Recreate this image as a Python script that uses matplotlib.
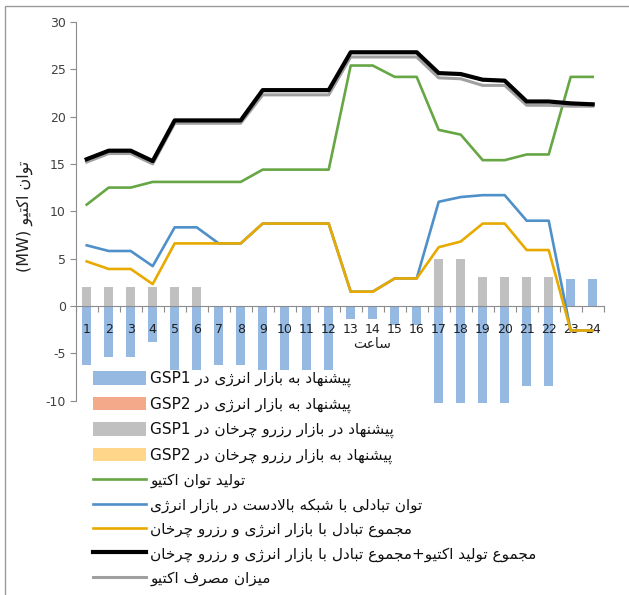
import matplotlib
matplotlib.use("Agg")
import matplotlib.pyplot as plt
import matplotlib.patches as mpatches
import numpy as np

plt.rcParams['font.family'] = ['DejaVu Sans']

# ---------------- data ----------------
hours = list(range(1, 25))
hour_labels = [str(h) for h in hours]

bid_energy_gsp1 = [-6.2, -5.4, -5.4, -3.8, -8.2, -8.2, -6.2, -6.2, -8.5, -8.5, -8.5, -8.5,
                   -1.4, -1.4, -2.0, -2.0, -10.3, -10.3, -10.3, -10.3, -8.5, -8.5, 2.8, 2.8]
bid_energy_gsp2 = [0.0] * 24
bid_reserve_gsp1 = [2.0, 2.0, 2.0, 2.0, 2.0, 2.0, 0, 0, 0, 0, 0, 0,
                    0, 0, 0, 0, 5.0, 5.0, 3.1, 3.1, 3.1, 3.1, 0, 0]
bid_reserve_gsp2 = [0.0] * 24

active_gen = [10.7, 12.5, 12.5, 13.1, 13.1, 13.1, 13.1, 13.1, 14.4, 14.4, 14.4, 14.4,
              25.4, 25.4, 24.2, 24.2, 18.6, 18.1, 15.4, 15.4, 16.0, 16.0, 24.2, 24.2]
exchange_energy = [6.4, 5.8, 5.8, 4.2, 8.3, 8.3, 6.6, 6.6, 8.7, 8.7, 8.7, 8.7,
                   1.5, 1.5, 2.9, 2.9, 11.0, 11.5, 11.7, 11.7, 9.0, 9.0, -2.6, -2.6]
exchange_total = [4.7, 3.9, 3.9, 2.3, 6.6, 6.6, 6.6, 6.6, 8.7, 8.7, 8.7, 8.7,
                  1.5, 1.5, 2.9, 2.9, 6.2, 6.8, 8.7, 8.7, 5.9, 5.9, -2.6, -2.6]
gen_plus_exchange = [15.5, 16.4, 16.4, 15.3, 19.6, 19.6, 19.6, 19.6, 22.8, 22.8, 22.8, 22.8,
                     26.8, 26.8, 26.8, 26.8, 24.6, 24.5, 23.9, 23.8, 21.6, 21.6, 21.4, 21.3]
active_load = [15.2, 16.1, 16.1, 15.0, 19.3, 19.3, 19.3, 19.3, 22.3, 22.3, 22.3, 22.3,
               26.3, 26.3, 26.3, 26.3, 24.1, 24.0, 23.3, 23.3, 21.2, 21.2, 21.1, 21.1]

y_ticks = [-10, -5, 0, 5, 10, 15, 20, 25, 30]

# ---------------- minimal Persian shaping ----------------
FORMS = {
    'ا': ('\uFE8D', '\uFE8E', None, None),
    'ب': ('\uFE8F', '\uFE90', '\uFE91', '\uFE92'),
    'پ': ('\uFB56', '\uFB57', '\uFB58', '\uFB59'),
    'ت': ('\uFE95', '\uFE96', '\uFE97', '\uFE98'),
    'ج': ('\uFE9D', '\uFE9E', '\uFE9F', '\uFEA0'),
    'چ': ('\uFB7A', '\uFB7B', '\uFB7C', '\uFB7D'),
    'خ': ('\uFEA5', '\uFEA6', '\uFEA7', '\uFEA8'),
    'د': ('\uFEA9', '\uFEAA', None, None),
    'ر': ('\uFEAD', '\uFEAE', None, None),
    'ز': ('\uFEAF', '\uFEB0', None, None),
    'ژ': ('\uFB8A', '\uFB8B', None, None),
    'س': ('\uFEB1', '\uFEB2', '\uFEB3', '\uFEB4'),
    'ش': ('\uFEB5', '\uFEB6', '\uFEB7', '\uFEB8'),
    'ص': ('\uFEB9', '\uFEBA', '\uFEBB', '\uFEBC'),
    'ع': ('\uFEC9', '\uFECA', '\uFECB', '\uFECC'),
    'ف': ('\uFED1', '\uFED2', '\uFED3', '\uFED4'),
    'ک': ('\uFB8E', '\uFB8F', '\uFB90', '\uFB91'),
    'ل': ('\uFEDD', '\uFEDE', '\uFEDF', '\uFEE0'),
    'م': ('\uFEE1', '\uFEE2', '\uFEE3', '\uFEE4'),
    'ن': ('\uFEE5', '\uFEE6', '\uFEE7', '\uFEE8'),
    'ه': ('\uFEE9', '\uFEEA', '\uFEEB', '\uFEEC'),
    'و': ('\uFEED', '\uFEEE', None, None),
    'ی': ('\uFBFC', '\uFBFD', '\uFBFE', '\uFBFF'),
}


def fa(text):
    chars = list(text)
    out = []
    i = 0

    def joins_next(c):
        return c in FORMS and FORMS[c][2] is not None

    while i < len(chars):
        c = chars[i]
        if c not in FORMS:
            out.append(c)
            i += 1
            continue
        prev = chars[i - 1] if i > 0 else None
        cp = prev is not None and joins_next(prev)
        if c == 'ل' and i + 1 < len(chars) and chars[i + 1] == 'ا':
            out.append('\uFEFC' if cp else '\uFEFB')
            i += 2
            continue
        nxt = chars[i + 1] if i + 1 < len(chars) else None
        cn = joins_next(c) and nxt is not None and nxt in FORMS
        iso, fin, ini, med = FORMS[c]
        if cp and cn:
            out.append(med)
        elif cp:
            out.append(fin)
        elif cn:
            out.append(ini)
        else:
            out.append(iso)
        i += 1
    return ''.join(out)[::-1]


series_labels = [
    "GSP1 " + fa("پیشنهاد به بازار انرژی در"),
    "GSP2 " + fa("پیشنهاد به بازار انرژی در"),
    "GSP1 " + fa("پیشنهاد در بازار رزرو چرخان در"),
    "GSP2 " + fa("پیشنهاد به بازار رزرو چرخان در"),
    fa("تولید توان اکتیو"),
    fa("توان تبادلی با شبکه بالادست در بازار انرژی"),
    fa("مجموع تبادل با بازار انرژی و رزرو چرخان"),
    fa("مجموع تولید اکتیو+مجموع تبادل با بازار انرژی و رزرو چرخان"),
    fa("میزان مصرف اکتیو"),
]
x_title = fa("ساعت")
y_title = "(MW) " + fa("توان اکتیو")

# ---------------- figure ----------------
W, H = 629, 595
fig = plt.figure(figsize=(W / 100, H / 100), dpi=100)
fig.patch.set_facecolor('white')

# outer chart border
fig.patches.append(mpatches.Rectangle((5 / W, -0.1), 2.0, 1 - 6 / H + 0.1,
                                      transform=fig.transFigure, fill=False,
                                      edgecolor='#9a9a9a', lw=1.0, zorder=0))

left, right, top, bottom = 75.7, 603.7, 22.0, 400.5
ax = fig.add_axes([left / W, 1 - bottom / H, (right - left) / W, (bottom - top) / H])

x = np.array(hours, dtype=float)
bar_series = [bid_energy_gsp1, bid_energy_gsp2, bid_reserve_gsp1, bid_reserve_gsp2]
bar_colors = ['#95b9e1', '#f4aa8a', '#c0c0c0', '#ffd68a']
pos_base = np.zeros(24)
neg_base = np.zeros(24)
handles = []
for vals, col, lab in zip(bar_series, bar_colors, series_labels[:4]):
    v = np.array(vals, dtype=float)
    b = np.where(v >= 0, pos_base, neg_base)
    bc = ax.bar(x, v, width=0.4, bottom=b, color=col, label=lab, zorder=2, clip_on=False)
    pos_base += np.where(v > 0, v, 0)
    neg_base += np.where(v < 0, v, 0)
    handles.append(bc)

l1, = ax.plot(x, active_gen, color='#66a644', lw=1.9, label=series_labels[4], zorder=4)
l2, = ax.plot(x, exchange_energy, color='#4f90c9', lw=1.9, label=series_labels[5], zorder=4)
l3, = ax.plot(x, exchange_total, color='#e8aa00', lw=1.9, label=series_labels[6], zorder=5)
l5, = ax.plot(x, active_load, color='#a0a0a0', lw=2.2, label=series_labels[8], zorder=6)
l4, = ax.plot(x, gen_plus_exchange, color='#000000', lw=3.0, label=series_labels[7], zorder=7)
handles += [l1, l2, l3, l4, l5]

ax.set_xlim(0.5, 24.5)
ax.set_ylim(-10, 30)

for s in ['top', 'right']:
    ax.spines[s].set_visible(False)
ax.spines['bottom'].set_position(('data', 0))
ax.spines['bottom'].set_color('#8c8c8c')
ax.spines['left'].set_color('#8c8c8c')
ax.spines['bottom'].set_zorder(3)
ax.xaxis.set_zorder(3)
ax.yaxis.set_zorder(3)

ax.set_yticks(y_ticks)
ax.set_yticklabels([str(t) for t in y_ticks])
ax.tick_params(axis='y', direction='out', length=4, color='#8c8c8c',
               labelsize=9, labelcolor='#404040', pad=3)

ax.set_xticks(np.arange(0.5, 25, 1.0))
ax.set_xticklabels([])
ax.set_xticks(x, minor=True)
ax.set_xticklabels(hour_labels, minor=True)
ax.tick_params(axis='x', which='major', direction='out', length=4, color='#8c8c8c')
ax.tick_params(axis='x', which='minor', length=0, labelsize=9,
               labelcolor='#202020', pad=12)

ax.set_xlabel(x_title, fontsize=10, color='#202020')
ax.xaxis.set_label_coords((372 - left) / (right - left), (bottom - 337) / (bottom - top))
ax.set_ylabel(y_title, fontsize=11.5, color='#202020')
ax.yaxis.set_label_coords((33 - left) / (right - left), (bottom - 216) / (bottom - top))

leg = fig.legend(handles=handles, labels=series_labels, loc='upper left',
                 bbox_to_anchor=(90 / W, 1 - 368 / H), bbox_transform=fig.transFigure,
                 frameon=False, fontsize=11, handlelength=3.45, handleheight=1.0,
                 labelspacing=0.6, borderpad=0.2, handletextpad=0.3,
                 borderaxespad=0)
for t in leg.get_texts():
    t.set_color('#101010')
    t.set_bbox(dict(facecolor='white', edgecolor='none', pad=0.5))
leg.set_zorder(10)

fig.savefig('out.png', dpi=100, facecolor='white')
